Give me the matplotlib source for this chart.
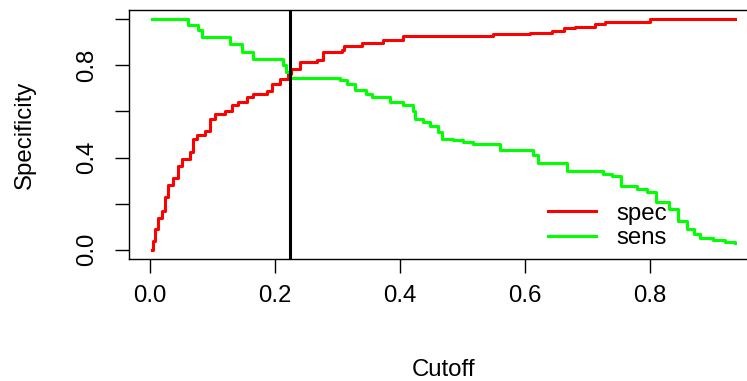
import matplotlib
matplotlib.use("Agg")
import matplotlib.pyplot as plt

# specificity / sensitivity against the cutoff (step curves)
cutoff_spec = [0.003, 0.005, 0.008, 0.013, 0.019, 0.024, 0.029, 0.036, 0.044,
               0.051, 0.064, 0.069, 0.075, 0.088, 0.096, 0.104, 0.12, 0.131,
               0.141, 0.155, 0.165, 0.187, 0.195, 0.208, 0.221, 0.226, 0.24,
               0.267, 0.277, 0.307, 0.31, 0.339, 0.373, 0.404, 0.549, 0.608,
               0.643, 0.662, 0.68, 0.712, 0.728, 0.8, 0.936]
spec = [0.0, 0.04, 0.09, 0.14, 0.17, 0.23, 0.28, 0.31, 0.365,
        0.394, 0.423, 0.48, 0.5, 0.517, 0.568, 0.587, 0.604, 0.626,
        0.64, 0.662, 0.677, 0.688, 0.72, 0.742, 0.764, 0.786, 0.814,
        0.822, 0.858, 0.868, 0.883, 0.897, 0.909, 0.926, 0.935, 0.942,
        0.949, 0.96, 0.967, 0.978, 0.988, 1.0, 1.0]

cutoff_sens = [0.003, 0.061, 0.077, 0.083, 0.127, 0.147, 0.165, 0.212, 0.217,
               0.224, 0.304, 0.315, 0.328, 0.345, 0.355, 0.384, 0.405, 0.421,
               0.424, 0.437, 0.448, 0.461, 0.467, 0.485, 0.501, 0.517, 0.56,
               0.612, 0.621, 0.667, 0.725, 0.74, 0.754, 0.78, 0.795, 0.81,
               0.83, 0.845, 0.859, 0.87, 0.88, 0.901, 0.92, 0.936]
sens = [1.0, 0.974, 0.952, 0.923, 0.894, 0.858, 0.829, 0.80, 0.771,
        0.746, 0.735, 0.72, 0.691, 0.675, 0.662, 0.64, 0.63, 0.604,
        0.568, 0.555, 0.539, 0.51, 0.481, 0.477, 0.467, 0.459, 0.433,
        0.41, 0.375, 0.34, 0.33, 0.322, 0.278, 0.262, 0.25, 0.206,
        0.177, 0.126, 0.09, 0.07, 0.051, 0.042, 0.035, 0.029]

best_cutoff = 0.224

x_ticks = [0.0, 0.2, 0.4, 0.6, 0.8]
y_ticks = [0.0, 0.2, 0.4, 0.6, 0.8, 1.0]
y_tick_labels = ["0.0", "", "0.4", "", "0.8", ""]

plt.rcParams['font.family'] = ['Liberation Sans', 'DejaVu Sans']
fs = 17.3

fig = plt.figure(figsize=(7.47, 3.81), dpi=100)
ax = fig.add_axes([129 / 747, 1 - 259 / 381, 629 / 747, 249 / 381])

ax.step(cutoff_spec, spec, where='post', color='#ff0000', lw=2.2, label='spec')
ax.step(cutoff_sens, sens, where='post', color='#00ff00', lw=2.2, label='sens')
ax.axvline(best_cutoff, color='black', lw=2.2)

ax.set_xlim(-0.034, 0.973)
ax.set_ylim(-0.04, 1.04)
ax.set_xticks(x_ticks)
ax.set_xticklabels(["%.1f" % t for t in x_ticks])
ax.set_yticks(y_ticks)
ax.set_yticklabels(y_tick_labels)

ax.tick_params(axis='both', length=10, width=1, labelsize=fs, color='black')
ax.tick_params(axis='x', pad=9)
ax.tick_params(axis='y', pad=12, labelrotation=90)
for lab in ax.get_yticklabels():
    lab.set_va('center')

for s in ax.spines.values():
    s.set_linewidth(1.0)

ax.set_xlabel('Cutoff', fontsize=fs)
ax.xaxis.set_label_coords(0.5, -0.446)
ax.xaxis.label.set_va('center')
ax.set_ylabel('Specificity', fontsize=fs)
ax.yaxis.set_label_coords(-0.165, 0.5)
ax.yaxis.label.set_va('center')

ax.legend(loc='center left', bbox_to_anchor=(0.666, 0.1325), frameon=False,
          fontsize=fs, borderpad=0, handlelength=2.0, handletextpad=0.85,
          labelspacing=0.1, borderaxespad=0)

fig.savefig('out.png', dpi=100)
